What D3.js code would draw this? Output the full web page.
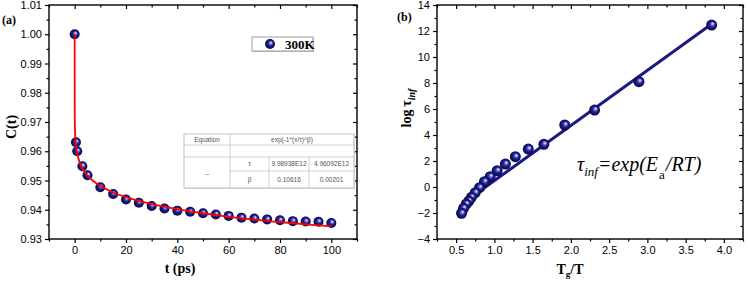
<!DOCTYPE html>
<html>
<head>
<meta charset="utf-8">
<script src="https://cdn.jsdelivr.net/npm/d3@7"></script>
<style>
  body { margin: 0; background: #fff; }
  .tick text { font-family: "Liberation Sans", Arial, sans-serif; font-size: 11px; fill: #000; }
  .tick line { stroke: #000; stroke-width: 1.2; }
  .title { font-family: "Liberation Serif", "Times New Roman", serif; font-weight: bold; fill: #000; }
  .cell { font-family: "Liberation Sans", Arial, sans-serif; font-size: 6.5px; fill: #555; }
</style>
</head>
<body>
<svg id="chart" width="748" height="281"></svg>
<script>
// small stand-in for d3-selection-multi
d3.selection.prototype.attrs = function(o) {
  Object.entries(o).forEach(([k, v]) => this.attr(k, v));
  return this;
};

// panel (a): correlation function C(t)
let t_points = [0, 0.5, 1, 3, 5, 10, 15, 20, 25, 30, 35, 40, 45, 50, 55, 60, 65, 70, 75, 80, 85, 90, 95, 100],
  c_points = [1.000, 0.9631, 0.9600, 0.9549, 0.9518, 0.9477, 0.9454, 0.9435, 0.9424, 0.9413, 0.9404, 0.9397,
              0.9393, 0.9388, 0.9384, 0.9379, 0.9373, 0.9370, 0.9367, 0.9364, 0.9361, 0.9360, 0.9359, 0.9355],
  fit_t = [0, 0.0001, 0.01, 0.1, 0.5, 1, 2, 3, 5, 7, 10, 15, 20, 25, 30, 40, 50, 60, 70, 80, 90, 100],
  fit_c = [1.000, 0.9844, 0.9748, 0.9679, 0.9620, 0.9592, 0.9561, 0.9542, 0.9517, 0.9500, 0.9482, 0.9459,
           0.9443, 0.9430, 0.9419, 0.9402, 0.9388, 0.9376, 0.9366, 0.9358, 0.9350, 0.9343],
  t_ticks = [0, 20, 40, 60, 80, 100],
  t_minor = [-10, 10, 30, 50, 70, 90, 110],
  c_ticks = [0.93, 0.94, 0.95, 0.96, 0.97, 0.98, 0.99, 1.00, 1.01],
  c_minor = [0.935, 0.945, 0.955, 0.965, 0.975, 0.985, 0.995, 1.005],
  legend_label = "300K";

// fit table
let table_head = ["Equation", "exp(-1*(x/\u03c4)^\u03b2)"],
  table_params = ["\u03c4", "\u03b2"],
  table_values = ["9.98938E12", "0.10616"],
  table_errors = ["4.96092E12", "0.00201"];

// panel (b): log tau_inf vs Tg/T
let tg_points = [3.84, 2.89, 2.31, 1.92, 1.647, 1.443, 1.274, 1.144, 1.036, 0.945, 0.87, 0.806, 0.75, 0.70, 0.666, 0.632, 0.597, 0.571],
  logtau_points = [12.46, 8.1, 5.92, 4.77, 3.28, 2.92, 2.33, 1.77, 1.25, 0.79, 0.41, -0.05, -0.44, -0.79, -1.08, -1.31, -1.64, -2.02],
  line_x = [0.588, 3.863],
  line_y = [-1.26, 12.64],
  tg_ticks = [0.5, 1.0, 1.5, 2.0, 2.5, 3.0, 3.5, 4.0],
  tg_minor = [0.25, 0.75, 1.25, 1.75, 2.25, 2.75, 3.25, 3.75, 4.25],
  log_ticks = [-4, -2, 0, 2, 4, 6, 8, 10, 12, 14],
  log_minor = [-3, -1, 1, 3, 5, 7, 9, 11, 13];

let svg = d3.select("#chart"),
  pa = {left: 49, right: 357, top: 5, bottom: 239},
  pb = {left: 437, right: 743, top: 5, bottom: 239};

let scales = {
  xa: d3.scaleLinear().domain([-10, 110]).range([pa.left, pa.right]),
  ya: d3.scaleLinear().domain([0.93, 1.01]).range([pa.bottom, pa.top]),
  xb: d3.scaleLinear().domain([0.25, 4.25]).range([pb.left, pb.right]),
  yb: d3.scaleLinear().domain([-4, 14]).range([pb.bottom, pb.top])
};

// sphere look for the markers
let grad = svg.append("defs").append("radialGradient")
  .attrs({id: "ball", cx: 0.5, cy: 0.5, r: 0.5, fx: 0.62, fy: 0.36});
[[0, "#ffffff"], [0.22, "#8a8ad8"], [0.5, "#22228f"], [1, "#05054a"]].forEach(s =>
  grad.append("stop").attr("offset", s[0]).attr("stop-color", s[1]));

function frame(p, xs, ys, xt, xm, yt, ym, fmt_x, fmt_y) {
  let g = svg.append("g");
  let axis = (gen, ticks, size, fmt, tr) => {
    let a = g.append("g").attr("transform", tr)
      .call(gen.tickValues(ticks).tickSize(size).tickPadding(3).tickFormat(fmt));
    a.select(".domain").remove();
    a.selectAll("text").attr("fill", "#000");
    return a;
  };
  let none = () => "";
  axis(d3.axisBottom(xs), xt, 4, fmt_x, `translate(0,${p.bottom})`);
  axis(d3.axisBottom(xs), xm, 2.5, none, `translate(0,${p.bottom})`);
  axis(d3.axisLeft(ys), yt, 4, fmt_y, `translate(${p.left},0)`);
  axis(d3.axisLeft(ys), ym, 2.5, none, `translate(${p.left},0)`);
  axis(d3.axisTop(xs), xt, -4, none, `translate(0,${p.top})`);
  axis(d3.axisTop(xs), xm, -2.5, none, `translate(0,${p.top})`);
  axis(d3.axisRight(ys), yt, -4, none, `translate(${p.right},0)`);
  axis(d3.axisRight(ys), ym, -2.5, none, `translate(${p.right},0)`);
  g.append("rect")
    .attrs({x: p.left, y: p.top, width: p.right - p.left, height: p.bottom - p.top,
            fill: "none", stroke: "#000", "stroke-width": 1.4});
}

// ---------- panel (a)
frame(pa, scales.xa, scales.ya, t_ticks, t_minor, c_ticks, c_minor, d3.format("d"), d3.format(".2f"));

svg.append("g").selectAll("circle")
  .data(t_points.map((t, i) => [t, c_points[i]])).enter()
  .append("circle")
  .attrs({cx: d => scales.xa(d[0]), cy: d => scales.ya(d[1]), r: 5, fill: "url(#ball)"});

svg.append("path")
  .datum(fit_t.map((t, i) => [t, fit_c[i]]))
  .attrs({
    d: d3.line().x(d => scales.xa(d[0])).y(d => scales.ya(d[1])).curve(d3.curveMonotoneX),
    fill: "none", stroke: "#ff0000", "stroke-width": 1.8
  });

// legend
svg.append("rect").attrs({x: 253, y: 38, width: 61, height: 14, fill: "#c8c8c8"});
svg.append("rect").attrs({x: 252, y: 37, width: 61, height: 14, fill: "#fff", stroke: "#888", "stroke-width": 0.8});
svg.append("circle").attrs({cx: 270, cy: 44, r: 5, fill: "url(#ball)"});
svg.append("text").attr("class", "title").attrs({x: 285, y: 48.5, "font-size": 13}).text(legend_label);

// table
let tb = svg.append("g"),
  cx = [184, 230, 269, 309, 354],
  ry = [134, 145, 157, 171, 188];
tb.append("rect").attrs({x: cx[0] + 1, y: ry[0] + 1, width: cx[4] - cx[0], height: ry[4] - ry[0], fill: "#e4e4e4"});
tb.append("rect").attrs({x: cx[0], y: ry[0], width: cx[4] - cx[0], height: ry[4] - ry[0], fill: "#fff", stroke: "#b0b0b0", "stroke-width": 0.8});
let hl = [[cx[0], cx[4], ry[1]], [cx[0], cx[4], ry[2]], [cx[1], cx[4], ry[3]]],
  vl = [[cx[1], ry[0], ry[4]], [cx[2], ry[2], ry[4]], [cx[3], ry[2], ry[4]]];
hl.forEach(l => tb.append("line").attrs({x1: l[0], x2: l[1], y1: l[2], y2: l[2], stroke: "#c4c4c4", "stroke-width": 0.8}));
vl.forEach(l => tb.append("line").attrs({x1: l[0], x2: l[0], y1: l[1], y2: l[2], stroke: "#c4c4c4", "stroke-width": 0.8}));
let cell = (x, y, s) => tb.append("text").attr("class", "cell")
  .attrs({x: x, y: y, "text-anchor": "middle", dy: "0.35em"}).text(s);
cell((cx[0] + cx[1]) / 2, (ry[0] + ry[1]) / 2, table_head[0]);
cell((cx[1] + cx[4]) / 2, (ry[0] + ry[1]) / 2, table_head[1]);
cell((cx[0] + cx[1]) / 2, (ry[2] + ry[4]) / 2 + 1, "--");
table_params.forEach((p, i) => {
  let y = (ry[2 + i] + ry[3 + i]) / 2;
  cell((cx[1] + cx[2]) / 2, y, p);
  cell((cx[2] + cx[3]) / 2, y, table_values[i]);
  cell((cx[3] + cx[4]) / 2, y, table_errors[i]);
});

// titles (a)
svg.append("text").attr("class", "title").attrs({x: 2, y: 24, "font-size": 12}).text("(a)");
svg.append("text").attr("class", "title").attrs({x: 180, y: 273, "font-size": 14, "text-anchor": "middle"}).text("t (ps)");
svg.append("text").attr("class", "title")
  .attrs({transform: "translate(16,127)rotate(-90)", "font-size": 14, "text-anchor": "middle"}).text("C(t)");

// ---------- panel (b)
frame(pb, scales.xb, scales.yb, tg_ticks, tg_minor, log_ticks, log_minor, d3.format(".1f"), d3.format("d"));

svg.append("path")
  .datum(line_x.map((x, i) => [x, line_y[i]]))
  .attrs({
    d: d3.line().x(d => scales.xb(d[0])).y(d => scales.yb(d[1])),
    fill: "none", stroke: "#1a1a80", "stroke-width": 3
  });

svg.append("g").selectAll("circle")
  .data(tg_points.map((x, i) => [x, logtau_points[i]])).enter()
  .append("circle")
  .attrs({cx: d => scales.xb(d[0]), cy: d => scales.yb(d[1]), r: 5.5, fill: "url(#ball)"});

svg.append("text").attr("class", "title").attrs({x: 397, y: 21, "font-size": 12}).text("(b)");

let xt = svg.append("text").attr("class", "title").attrs({x: 570, y: 274, "font-size": 14, "text-anchor": "middle"});
xt.append("tspan").text("T");
xt.append("tspan").attrs({dy: 3, "font-size": 9}).text("g");
xt.append("tspan").attrs({dy: -3}).text("/T");

let yt = svg.append("text").attr("class", "title")
  .attrs({transform: "translate(411,108)rotate(-90)", "font-size": 14, "text-anchor": "middle"});
yt.append("tspan").text("log\u2009\u03c4");
yt.append("tspan").attrs({dy: 4, "font-size": 10, "font-style": "italic"}).text("inf");

let eq = svg.append("text")
  .attrs({x: 577, y: 171, "font-family": "Liberation Serif, serif", "font-style": "italic", "font-size": 20});
eq.append("tspan").text("\u03c4");
eq.append("tspan").attrs({dy: 5, "font-size": 13}).text("inf");
eq.append("tspan").attrs({dy: -5}).text("=exp(E");
eq.append("tspan").attrs({dy: 8, dx: 1, "font-size": 13, "font-style": "normal"}).text("a");
eq.append("tspan").attrs({dy: -8, dx: 1}).text("/RT)");
</script>
</body>
</html>
